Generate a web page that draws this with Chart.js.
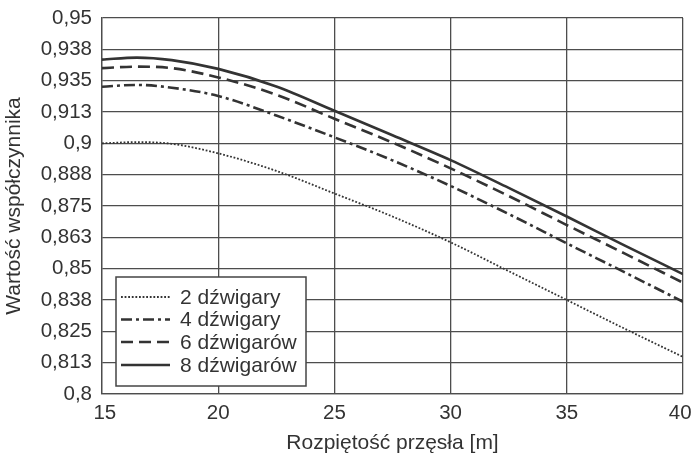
<!DOCTYPE html>
<html>
<head>
<meta charset="utf-8">
<script src="https://cdn.jsdelivr.net/npm/chart.js@4.4.1/dist/chart.umd.min.js"></script>
<style>
  html, body { margin: 0; padding: 0; background: #fff; }
  #wrap { width: 691px; height: 456px; position: relative; }
</style>
</head>
<body>
<div id="wrap"><canvas id="c" width="691" height="456"></canvas></div>
<script>
// ---- data ----
const spans = [15, 16.5, 18, 20, 22.5, 25, 27.5, 30, 32.5, 35, 37.5, 40];
const girders2 = [0.9000, 0.9005, 0.8998, 0.8960, 0.8890, 0.8800, 0.8708, 0.8605, 0.8490, 0.8375, 0.8260, 0.8148];
const girders4 = [0.9226, 0.9233, 0.9222, 0.9189, 0.9111, 0.9024, 0.8932, 0.8830, 0.8718, 0.8601, 0.8485, 0.8368];
const girders6 = [0.9300, 0.9306, 0.9300, 0.9263, 0.9194, 0.9098, 0.9003, 0.8900, 0.8790, 0.8674, 0.8560, 0.8444];
const girders8 = [0.9334, 0.9342, 0.9332, 0.9297, 0.9227, 0.9130, 0.9032, 0.8933, 0.8822, 0.8708, 0.8592, 0.8478];
const seriesNames = ['2 dźwigary', '4 dźwigary', '6 dźwigarów', '8 dźwigarów'];
const yTickValues = [0.8, 0.8125, 0.825, 0.8375, 0.85, 0.8625, 0.875, 0.8875, 0.9, 0.9125, 0.925, 0.9375, 0.95];
const yTickLabels = ['0,8', '0,813', '0,825', '0,838', '0,85', '0,863', '0,875', '0,888', '0,9', '0,913', '0,935', '0,938', '0,95'];
const xTickValues = [15, 20, 25, 30, 35, 40];
const xTickLabels = [' 15', '20', '25', '30', '35', '40 '];
const xTitle = 'Rozpiętość przęsła [m]';
const yTitle = 'Wartość współczynnika';

const FONT = 'Liberation Sans, Arial, sans-serif';
const INK = '#333333';
const GRID = '#4d4d4d';

function pts(ys) { return spans.map((x, i) => ({ x: x, y: ys[i] })); }

const styles = [
  { borderWidth: 1.8, borderDash: [1.8, 1.8] },
  { borderWidth: 2.6, borderDash: [11, 4, 3, 4] },
  { borderWidth: 2.6, borderDash: [12, 6] },
  { borderWidth: 2.6, borderDash: [] }
];
const seriesData = [girders2, girders4, girders6, girders8];

const datasets = seriesData.map((d, i) => ({
  label: seriesNames[i],
  data: pts(d),
  borderColor: INK,
  backgroundColor: INK,
  borderWidth: styles[i].borderWidth,
  borderDash: styles[i].borderDash,
  pointRadius: 0,
  cubicInterpolationMode: 'monotone',
  fill: false
}));

const legendPlugin = {
  id: 'boxLegend',
  afterDraw(chart) {
    const ctx = chart.ctx;
    const x0 = 116, y0 = 277, w = 190, h = 109;
    ctx.save();
    ctx.fillStyle = '#ffffff';
    ctx.fillRect(x0, y0, w, h);
    ctx.strokeStyle = '#444';
    ctx.lineWidth = 1.5;
    ctx.strokeRect(x0, y0, w, h);
    const rows = [297, 319.5, 342, 365];
    chart.data.datasets.forEach((ds, i) => {
      const y = rows[i];
      ctx.beginPath();
      ctx.setLineDash(ds.borderDash || []);
      ctx.lineWidth = ds.borderWidth;
      ctx.strokeStyle = ds.borderColor;
      ctx.moveTo(121, y);
      ctx.lineTo(170, y);
      ctx.stroke();
      ctx.setLineDash([]);
      ctx.fillStyle = INK;
      ctx.font = '21px ' + FONT;
      ctx.textBaseline = 'middle';
      ctx.textAlign = 'left';
      ctx.fillText(ds.label, 180, y + 1);
    });
    ctx.restore();
  }
};

new Chart(document.getElementById('c'), {
  type: 'line',
  data: { datasets: datasets },
  plugins: [legendPlugin],
  options: {
    responsive: false,
    animation: false,
    layout: { padding: { top: 18, right: 8, left: 0, bottom: 0 } },
    plugins: { legend: { display: false }, tooltip: { enabled: false } },
    scales: {
      x: {
        type: 'linear',
        min: 15, max: 40,
        afterBuildTicks: (s) => { s.ticks = xTickValues.map(v => ({ value: v })); },
        afterFit: (s) => { s.height = 62; s.paddingLeft = 0; s.paddingRight = 0; },
        grid: { color: GRID, lineWidth: 1.3, tickLength: 0, drawTicks: false },
        border: { color: GRID, width: 1.3 },
        ticks: { color: INK, font: { family: FONT, size: 20.5 }, padding: 7, maxRotation: 0,
          callback: (v, i) => xTickLabels[i] },
        title: { display: true, text: xTitle, color: INK, font: { family: FONT, size: 21 }, padding: { top: 2, bottom: 0 } }
      },
      y: {
        type: 'linear',
        min: 0.8, max: 0.95,
        afterBuildTicks: (s) => { s.ticks = yTickValues.map(v => ({ value: v })); },
        afterFit: (s) => { s.width = 102; s.paddingTop = 0; s.paddingBottom = 0; },
        grid: { color: GRID, lineWidth: 1.3, tickLength: 0, drawTicks: false },
        border: { color: GRID, width: 1.3 },
        ticks: { color: INK, font: { family: FONT, size: 20.5 }, padding: 10,
          callback: (v, i) => yTickLabels[i] },
        title: { display: true, text: yTitle, color: INK, font: { family: FONT, size: 21 }, padding: { top: 2, bottom: 0 } }
      }
    }
  }
});
</script>
</body>
</html>
